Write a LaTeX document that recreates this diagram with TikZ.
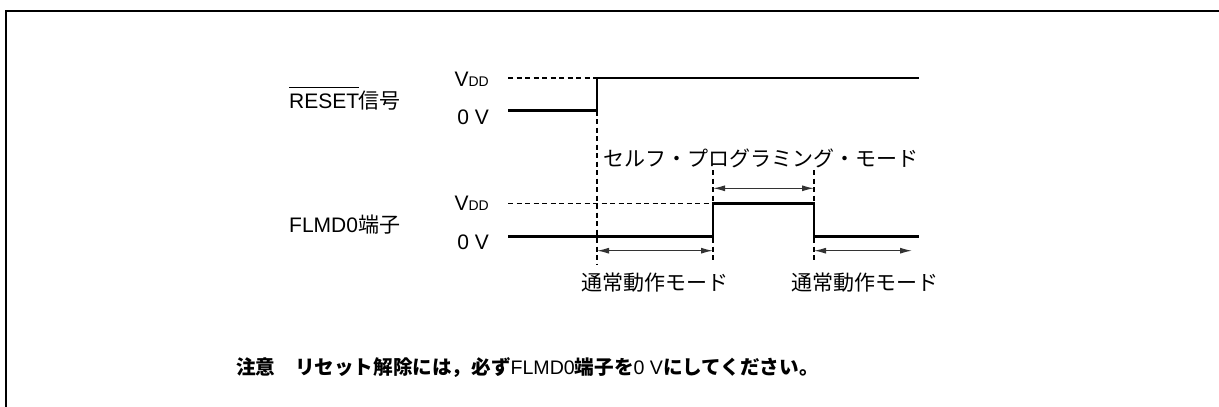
\documentclass[tikz,border=0pt]{standalone}
\usepackage{fontspec}
\setmainfont{Liberation Sans}
\newfontfamily\jp{Noto Sans CJK JP}
\usetikzlibrary{arrows.meta}
\begin{document}
\begin{tikzpicture}[x=1pt,y=-1pt,
  sig/.style={line width=2.8pt, line cap=butt, line join=miter},
  guide/.style={line width=1.1pt, dash pattern=on 5pt off 3.5pt},
  span/.style={line width=1.2pt, black!80, {Latex[length=12pt,width=6pt]}-{Latex[length=12pt,width=6pt]}},
  lbl/.style={inner sep=0pt, font=\fontsize{21}{25}\selectfont},
  jlbl/.style={inner sep=0pt, font=\jp\fontsize{21}{25}\selectfont},
  notelbl/.style={inner sep=0pt, font=\fontsize{19.6}{24}\selectfont}]
\useasboundingbox (0,0) rectangle (1219,407);
\draw[line width=2pt] (6,407) -- (6,10.5) -- (1219,10.5);
% labels
\newcommand{\vdd}{V{\fontsize{14}{14}\selectfont DD}}
\node[lbl, anchor=west] (rstlbl) at (289,98) {$\overline{\mbox{RESET}\vphantom{\rule{0pt}{20pt}}}$\kern-1pt{\jp 信号}};
\node[lbl, anchor=west] (flmdlbl) at (289,225) {FLMD0{\jp 端子}};
\node[lbl, anchor=east] (rvdd) at (489,79) {\vdd};
\node[lbl, anchor=east] (r0v) at (489,117) {0 V};
\node[lbl, anchor=east] (fvdd) at (489,203) {\vdd};
\node[lbl, anchor=east] (f0v) at (489,242) {0 V};
% RESET signal
\coordinate (r0) at (508,110.7);
\coordinate (r1) at (597,110.7);
\coordinate (r2) at (597,78);
\coordinate (r3) at (919,78);
\coordinate (rv) at (508,78);
\draw[sig] (r0) -- (r1) -- (r2) -- (r3);
\draw[guide] (rv) -- (r2);
% FLMD0 signal
\coordinate (f0) at (508,236.7);
\coordinate (f1) at (713,236.7);
\coordinate (f2) at (713,203.3);
\coordinate (f3) at (814,203.3);
\coordinate (f4) at (814,236.7);
\coordinate (f5) at (919,236.7);
\coordinate (fv) at (508,203.3);
\draw[sig] (f0) -- (f1) -- (f2) -- (f3) -- (f4) -- (f5);
\draw[guide] (fv) -- (f2);
% vertical guides
\coordinate (g1b) at (597,265);
\coordinate (g2t) at (713,170);
\coordinate (g2b) at (713,260);
\coordinate (g3t) at (814,170);
\coordinate (g3b) at (814,262);
\draw[guide] (r1) -- (g1b);
\draw[guide] (g2t) -- (g2b);
\draw[guide] (g3t) -- (g3b);
% spans
\coordinate (s1a) at (713,188.3);
\coordinate (s1b) at (814,188.3);
\coordinate (s2a) at (597,250.7);
\coordinate (s2b) at (713,250.7);
\coordinate (s3a) at (814,250.7);
\coordinate (s3b) at (912,250.7);
\draw[span] (s1a) -- (s1b);
\draw[span] (s2a) -- (s2b);
\draw[span] (s3a) -- (s3b);
% mode labels
\node[jlbl, anchor=west] (selfmode) at (603,158) {セルフ・プログラミング・モード};
\node[jlbl] (norm1) at (655,283) {通常動作モード};
\node[jlbl] (norm2) at (865,283) {通常動作モード};
% note
\node[notelbl, anchor=west] (note) at (236,368) {{\jp\bfseries 注意　リセット解除には，必ず}FLMD0{\jp\bfseries 端子を}0 V{\jp\bfseries にしてください。}};
\end{tikzpicture}
\end{document}
